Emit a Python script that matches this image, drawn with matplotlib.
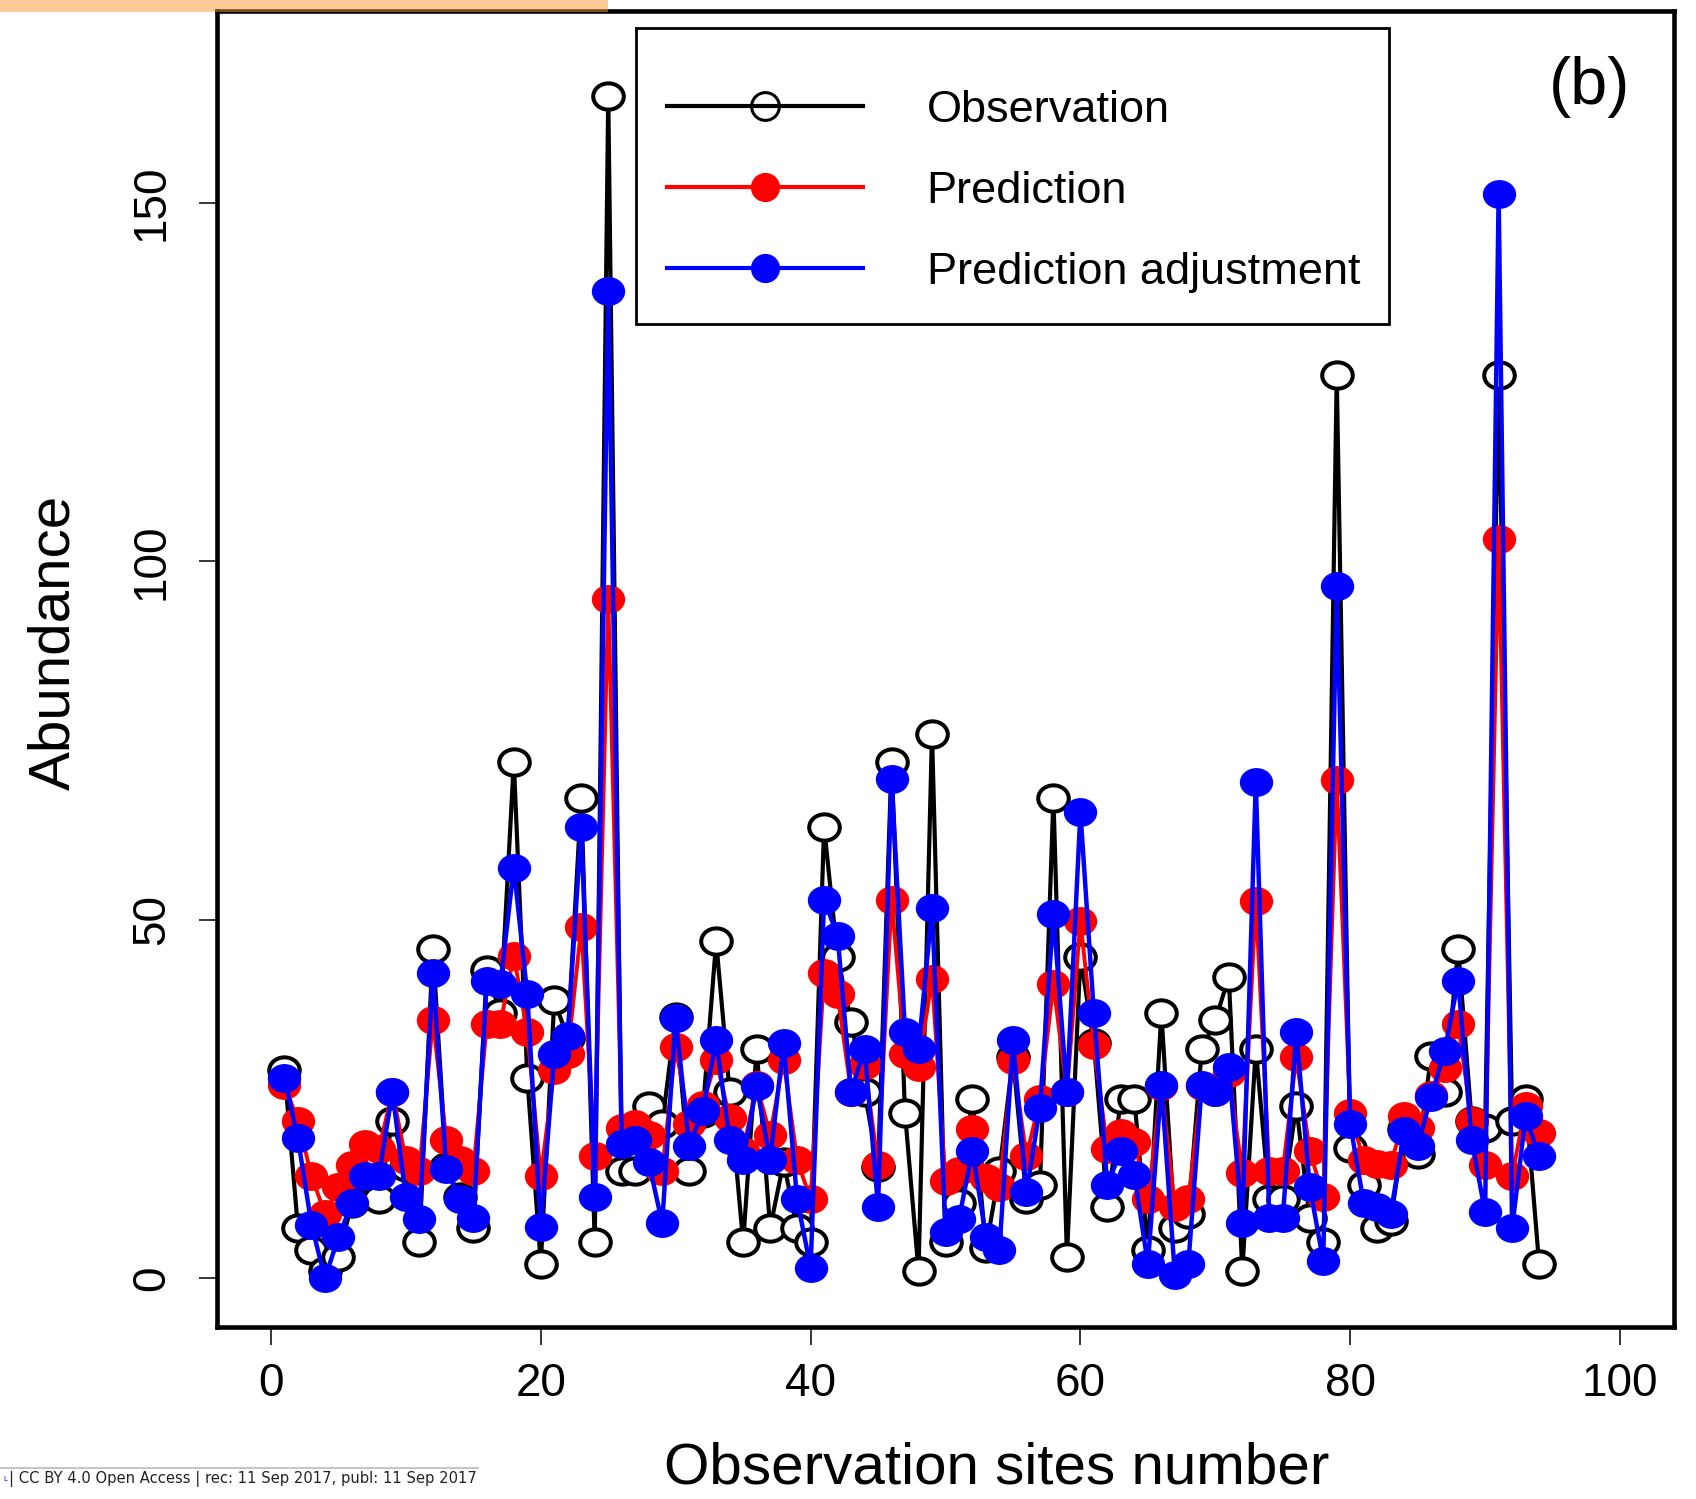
import numpy as np
import matplotlib
matplotlib.use("Agg")
import matplotlib.pyplot as plt
from matplotlib.lines import Line2D
from matplotlib.path import Path
from matplotlib.patches import Rectangle

plt.rcParams['font.family'] = ['Liberation Sans', 'DejaVu Sans']

sites = list(range(1, 95))
observation = [29, 7, 4, 1, 3, 10.5, 14, 11, 22, 15.5,
               5, 46, 15.5, 11.3, 7, 43, 37, 72, 28, 2,
               38.8, 33.5, 67, 5, 165, 15, 15, 24, 21.5, 36.5,
               15, 23, 47, 26, 5, 32, 7, 16.2, 7, 5,
               63, 44.8, 35.8, 26, 15.5, 72, 23, 1, 76, 5,
               10.5, 25, 4.2, 15, 30.8, 11, 13, 67, 3, 44.8,
               32.8, 10, 25, 25, 4, 37, 7, 9, 32, 36,
               42, 1, 32, 11, 11, 24, 8.4, 5, 126, 18.2,
               13, 7, 8, 20.8, 17.3, 31, 26, 46, 22, 21,
               126, 22, 25, 2]
prediction = [27, 22, 14.3, 9, 12.8, 15.8, 18.8, 18, 26, 16.5,
              15, 36, 19.3, 16.5, 15, 35.5, 35.5, 45, 34.3, 14.3,
              29, 31.3, 49, 17, 94.8, 21, 21.5, 20, 15, 32.3,
              21.5, 24.2, 30.5, 22.3, 17.8, 27, 20, 30.5, 16.5, 11,
              42.6, 39.6, 26, 29.8, 15.8, 52.8, 31.3, 29.5, 41.8, 13.5,
              15, 20.8, 14, 12.8, 30.5, 17, 25, 41, 26, 49.8,
              32.5, 18, 20.3, 19, 11, 26.8, 10, 11, 26.8, 26,
              28.6, 14.7, 52.7, 15, 15, 30.8, 17.8, 11.4, 69.5, 23,
              16.5, 16, 15.8, 22.6, 21, 25.6, 29.3, 35.5, 22, 15.8,
              103.2, 14.3, 24, 20.3]
adjustment = [28, 19.5, 7.5, 0, 5.7, 10.5, 14.3, 14.3, 26, 11.3,
              8.3, 42.6, 15.2, 11, 8.4, 41.5, 41, 57.3, 39.6, 7.2,
              31.3, 33.8, 63, 11.3, 137.7, 18.8, 19.3, 16.2, 7.7, 36.3,
              18.5, 23.3, 33.2, 19.3, 16.5, 26.8, 16.5, 32.8, 11, 1.5,
              52.8, 47.8, 26, 32, 10, 69.7, 34.3, 32, 51.6, 6.5,
              8.3, 17.8, 5.7, 4, 33.2, 12, 23.8, 50.8, 26, 65,
              37, 13, 17.8, 14.4, 2, 27, 0.5, 2, 27, 26,
              29.5, 7.7, 69.2, 8.4, 8.4, 34.3, 12.8, 2.4, 96.6, 21.5,
              10.5, 10, 9, 20.5, 18.5, 25.3, 31.7, 41.5, 19.3, 9.2,
              151.2, 7, 22.6, 17]
series_labels = ["Observation", "Prediction", "Prediction adjustment"]
xticks = [0, 20, 40, 60, 80, 100]
yticks = [0, 50, 100, 150]

W, H = 1696, 1499
fig = plt.figure(figsize=(W / 100, H / 100), dpi=100)

L, R, T, B = 217, 1674, 11, 1327
ax = fig.add_axes([L / W, 1 - B / H, (R - L) / W, (B - T) / H])

# slightly wide ellipse marker
uc = Path.unit_circle()
ell = Path(uc.vertices * np.array([1.0, 0.86]), uc.codes)

ax.plot(sites, observation, color='black', lw=3.0, marker=ell, ms=22,
        mfc='white', mec='black', mew=2.9, zorder=2)
ax.plot(sites, prediction, color='red', lw=2.8, marker=ell, ms=23,
        mfc='red', mec='red', zorder=3)
ax.plot(sites, adjustment, color='blue', lw=3.2, marker=ell, ms=23,
        mfc='blue', mec='blue', zorder=4)

ax.set_xlim(-4, 104)
ax.set_ylim(-6.8, 176.8)
ax.set_xticks(xticks)
ax.set_yticks(yticks)
ax.set_xticklabels([str(v) for v in xticks], fontsize=33)
ax.set_yticklabels([str(v) for v in yticks], fontsize=33, rotation=90, va='center')
ax.tick_params(axis='both', direction='out', length=13, width=1.1, color='black')
ax.tick_params(axis='x', pad=12)
ax.tick_params(axis='y', pad=18)
for s in ax.spines.values():
    s.set_linewidth(3.3)

fig.text(997 / W, 1 - 1468 / H, "Observation sites number", fontsize=42,
         ha='center', va='center')
fig.text(54 / W, 1 - 642 / H, "Abundance", fontsize=42, rotation=90,
         ha='center', va='center')

ax.text(1590 / W, 1 - 87 / H, "(b)", transform=fig.transFigure, fontsize=48,
        ha='center', va='center')

handles = [
    Line2D([], [], color='black', lw=3, marker='o', ms=20, mfc='none', mec='black', mew=2.2),
    Line2D([], [], color='red', lw=3, marker='o', ms=20, mfc='red', mec='red'),
    Line2D([], [], color='blue', lw=3, marker='o', ms=20, mfc='blue', mec='blue'),
]
leg = ax.legend(handles, series_labels, loc='upper left',
                bbox_to_anchor=(667 / W, 1 - 89.5 / H), bbox_transform=fig.transFigure,
                fontsize=32.5, frameon=False, borderaxespad=0,
                borderpad=0, labelspacing=0.89, handlelength=4.35, handletextpad=1.4)
# legend frame (R style box)
fig.patches.append(Rectangle((636 / W, 1 - 324 / H), (1389 - 636) / W, (324 - 28) / H,
                             transform=fig.transFigure, facecolor='none',
                             edgecolor='black', lw=2.0, zorder=6))

# orange strip at top-left (page overlay)
fig.patches.append(Rectangle((0, 1 - 12 / H), 608 / W, 12 / H, transform=fig.transFigure,
                             facecolor='#F79833', alpha=0.5, edgecolor='none', zorder=10))
# caption at bottom-left
fig.add_artist(Line2D([0, 478 / W], [1 - 1468 / H, 1 - 1468 / H], transform=fig.transFigure,
                      color='#BBBBBB', lw=1.2))
fig.text(3 / W, 1 - 1479 / H, "L", fontsize=5, color='blue', ha='left', va='center',
         family='DejaVu Sans')
fig.text(9 / W, 1 - 1479 / H, "| CC BY 4.0 Open Access | rec: 11 Sep 2017, publ: 11 Sep 2017",
         fontsize=10.65, ha='left', va='center', family='DejaVu Sans', color='#222222')

fig.savefig("out.png", dpi=100)
